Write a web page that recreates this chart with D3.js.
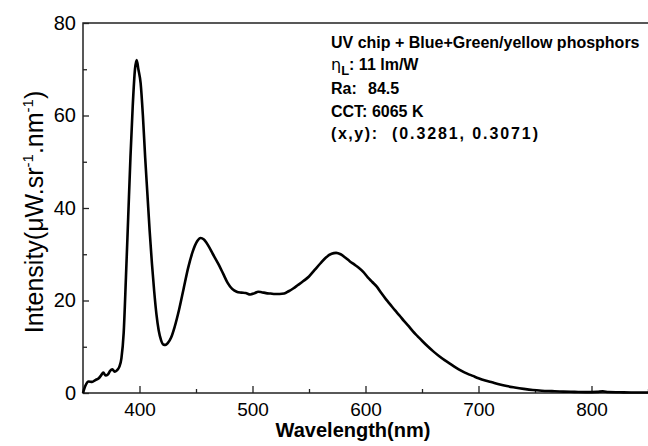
<!DOCTYPE html>
<html>
<head>
<meta charset="utf-8">
<script src="https://cdn.jsdelivr.net/npm/d3@7/dist/d3.min.js"></script>
<style>
  html, body { margin: 0; padding: 0; background: #fff; }
  svg { display: block; font-family: "Liberation Sans", Arial, Helvetica, sans-serif; }
</style>
</head>
<body>
<svg id="chart" width="648" height="446"></svg>
<script>
// Emission spectrum: wavelength (nm) and intensity (uW/sr/nm)
const wavelength = [
  350, 352, 355, 358, 361, 364, 366, 368, 370, 372, 374, 376, 378, 380, 382, 384,
  386, 388, 390, 392, 394, 396, 397.5, 399, 401, 403, 405, 407, 409, 411, 413, 415,
  417, 419, 421, 423, 425, 428, 431, 435, 439, 443, 447, 451, 454, 457, 461, 465,
  470, 474, 478, 482, 486, 490, 494, 498, 502, 505, 508, 512, 516, 520, 524, 528,
  532, 536, 540, 545, 550, 555, 560, 565, 570, 574, 578, 582, 586, 590, 594, 598,
  602, 606, 610, 614, 618, 622, 626, 630, 634, 638, 642, 646, 650, 655, 660, 665,
  670, 675, 680, 685, 690, 695, 700, 706, 712, 718, 725, 732, 740, 748, 756, 765,
  775, 785, 795, 805, 810, 815, 825, 835, 850
];
const intensity = [
  0, 1.5, 2.5, 2.4, 2.8, 3.2, 3.8, 4.4, 3.8, 4.0, 4.8, 5.1, 4.6, 4.9, 5.6, 7.5,
  13, 25, 38, 51, 62, 70, 72, 70, 67, 60, 51, 43, 35, 28, 22, 17,
  13.5, 11.5, 10.5, 10.4, 10.8, 12, 14.2, 18, 22.5, 27, 30.5, 32.8, 33.5, 33.2, 31.8, 30.0,
  27.8, 25.8, 23.8, 22.5, 21.9, 21.7, 21.6, 21.3, 21.6, 21.9, 21.8, 21.6, 21.5, 21.4, 21.4, 21.5,
  22.0, 22.6, 23.3, 24.2, 25.2, 26.6, 28.0, 29.3, 30.1, 30.3, 30.0, 29.3, 28.5, 27.8, 27.1, 26.2,
  25.0, 24.0, 23.0, 21.6, 20.3, 19.1, 17.9, 16.8, 15.6, 14.5, 13.3, 12.3, 11.3, 10.1, 9.0, 8.0,
  7.1, 6.3, 5.5, 4.8, 4.2, 3.7, 3.2, 2.7, 2.3, 1.9, 1.5, 1.2, 0.9, 0.65, 0.5, 0.4,
  0.3, 0.25, 0.2, 0.25, 0.35, 0.2, 0.15, 0.1, 0.1
];

const xMajorTicks = [400, 500, 600, 700, 800];
const xMinorTicks = [350, 450, 550, 650, 750, 850];
const yMajorTicks = [0, 20, 40, 60, 80];
const yMinorTicks = [10, 30, 50, 70];

const noteLines = [
  "UV chip + Blue+Green/yellow phosphors",
  ": 11 lm/W",
  "Ra:",
  "CCT: 6065 K",
  "(x,y):"
];
const noteValues = ["84.5", "(0.3281, 0.3071)"];

const margin = { left: 83, top: 23, right: 0, bottom: 53 };
const W = 648, H = 446;
const plotRight = 648;

const svg = d3.select("#chart");

const x = d3.scaleLinear().domain([350, 850]).range([margin.left, plotRight]);
const y = d3.scaleLinear().domain([0, 80]).range([H - margin.bottom, margin.top]);

const axisColor = "#222";

// Frame (top border and axes; the right side runs off the canvas)
svg.append("rect")
  .attr("x", margin.left).attr("y", margin.top)
  .attr("width", plotRight - margin.left + 4)
  .attr("height", y(0) - margin.top)
  .attr("fill", "none").attr("stroke", axisColor).attr("stroke-width", 1.5);

function styleAxis(g, fontSize) {
  g.select(".domain").remove();
  g.selectAll(".tick line").attr("stroke", axisColor).attr("stroke-width", 1.3);
  g.selectAll(".tick text").attr("fill", "#000")
    .style("font-size", fontSize + "px")
    .style("font-family", '"Liberation Sans", Arial, sans-serif');
}

// X axis: inward ticks
svg.append("g")
  .attr("transform", `translate(0,${y(0)})`)
  .call(d3.axisBottom(x).tickValues(xMajorTicks).tickSize(-7).tickPadding(10).tickFormat(d3.format("d")))
  .call(g => styleAxis(g, 19));
svg.append("g")
  .attr("transform", `translate(0,${y(0)})`)
  .call(d3.axisBottom(x).tickValues(xMinorTicks).tickSize(-4).tickFormat(""))
  .call(g => styleAxis(g, 19));

// Y axis: inward ticks
svg.append("g")
  .attr("transform", `translate(${margin.left},0)`)
  .call(d3.axisLeft(y).tickValues(yMajorTicks).tickSize(-6).tickPadding(7).tickFormat(d3.format("d")))
  .call(g => styleAxis(g, 20));
svg.append("g")
  .attr("transform", `translate(${margin.left},0)`)
  .call(d3.axisLeft(y).tickValues(yMinorTicks).tickSize(-4).tickFormat(""))
  .call(g => styleAxis(g, 20));

// Axis titles
svg.append("text")
  .attr("x", 353).attr("y", 437)
  .attr("text-anchor", "middle")
  .style("font-size", "20px").style("font-weight", "bold")
  .text("Wavelength(nm)");

const yTitle = svg.append("text")
  .attr("transform", `translate(43,${(margin.top + y(0)) / 2 + 4}) rotate(-90)`)
  .attr("text-anchor", "middle")
  .style("font-size", "25px");
yTitle.append("tspan").text("Intensity(\u03BCW.sr");
yTitle.append("tspan").attr("dy", -10).style("font-size", "15px").text("-1");
yTitle.append("tspan").attr("dy", 10).text(".nm");
yTitle.append("tspan").attr("dy", -10).style("font-size", "15px").text("-1");
yTitle.append("tspan").attr("dy", 10).text(")");

// Spectrum curve
const pts = wavelength.map((w, i) => [w, intensity[i]]);
svg.append("path")
  .datum(pts)
  .attr("fill", "none")
  .attr("stroke", "#000")
  .attr("stroke-width", 2.6)
  .attr("stroke-linejoin", "round")
  .attr("d", d3.line().x(d => x(d[0])).y(d => y(d[1])).curve(d3.curveMonotoneX));

// Annotation block
const note = svg.append("g")
  .style("font-size", "16px").style("font-weight", "bold");
const nx = 331;
const lineY = [48, 70, 94, 117, 139];
note.append("text").attr("x", nx).attr("y", lineY[0]).text(noteLines[0]);
const eta = note.append("text").attr("x", nx).attr("y", lineY[1]);
eta.append("tspan").style("font-weight", "normal").style("font-family", '"DejaVu Sans", sans-serif').text("\u03B7");
eta.append("tspan").attr("dy", 5).style("font-size", "13px").text("L");
eta.append("tspan").attr("dy", -5).text(noteLines[1]);
note.append("text").attr("x", nx).attr("y", lineY[2]).text(noteLines[2]);
note.append("text").attr("x", 368).attr("y", lineY[2]).text(noteValues[0]);
note.append("text").attr("x", nx).attr("y", lineY[3]).text(noteLines[3]);
note.append("text").attr("x", nx).attr("y", lineY[4])
  .attr("textLength", 46).attr("lengthAdjust", "spacing").text(noteLines[4]);
note.append("text").attr("x", 392).attr("y", lineY[4])
  .attr("textLength", 146).attr("lengthAdjust", "spacing").text(noteValues[1]);
</script>
</body>
</html>
